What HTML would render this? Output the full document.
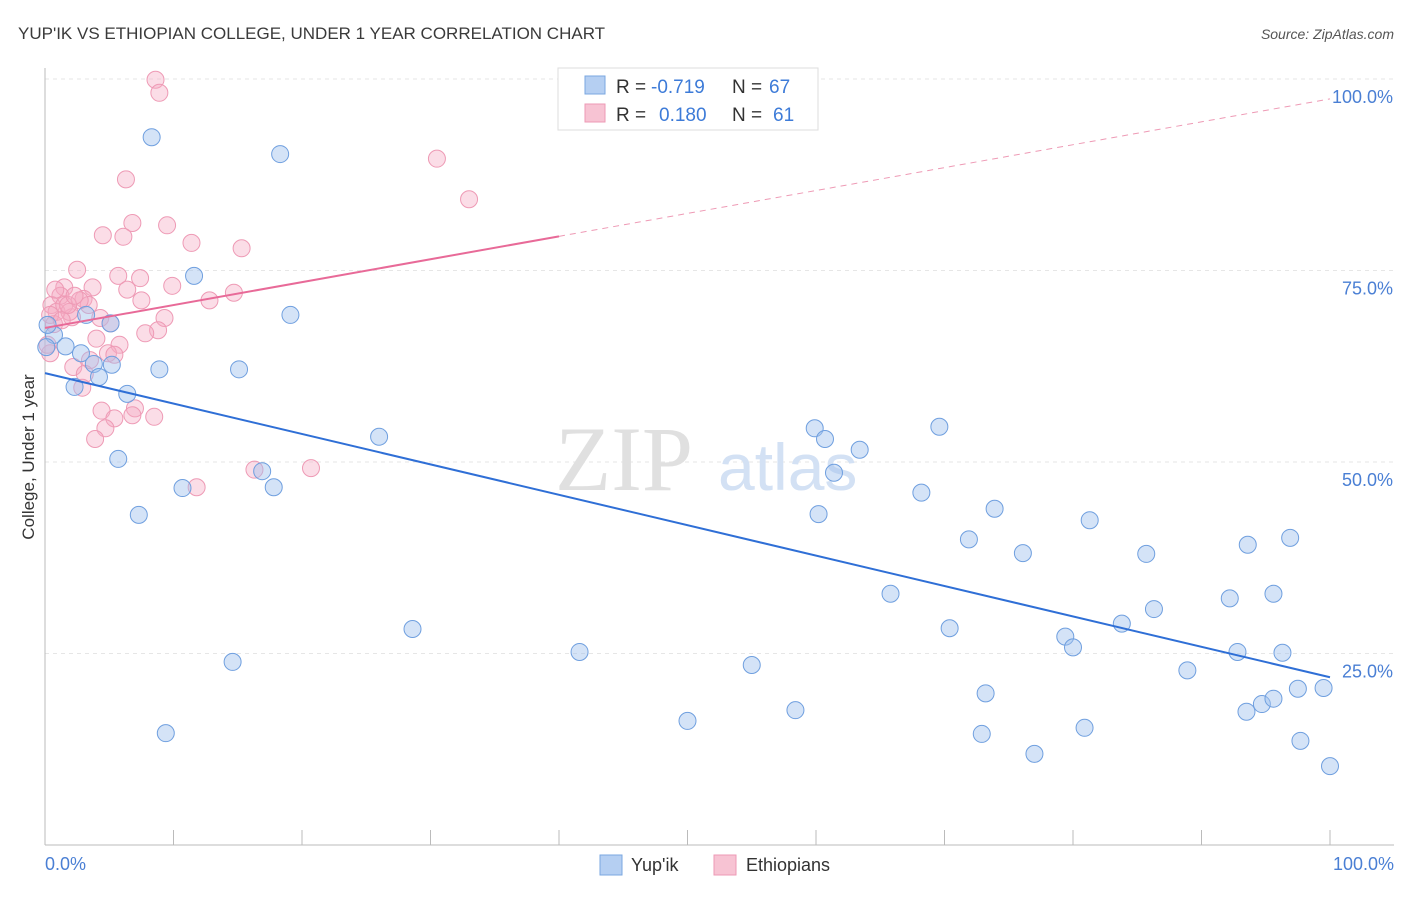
<!DOCTYPE html>
<html><head><meta charset="utf-8"><style>
body{margin:0;background:#fff;font-family:"Liberation Sans",sans-serif;}
svg text{font-family:"Liberation Sans",sans-serif;}
</style></head><body>
<svg id="chart" width="1406" height="892" viewBox="0 0 1406 892">
<text x="18" y="39" font-size="17" fill="#3a3a3a">YUP'IK VS ETHIOPIAN COLLEGE, UNDER 1 YEAR CORRELATION CHART</text>
<text x="1394" y="39" font-size="14" fill="#555" text-anchor="end" font-style="italic">Source: ZipAtlas.com</text>
<g id="grid"></g>
<text x="555" y="490" font-size="92" fill="#e0e0e0" style="font-family:'Liberation Serif',serif">ZIP</text>
<text x="718" y="490" font-size="66" fill="#d3e1f4">atlas</text>
<line x1="45" y1="845" x2="1394" y2="845" stroke="#bbb"/>
<line x1="45" y1="68" x2="45" y2="845" stroke="#bbb"/>
<g id="ticks"></g>
<g id="ylabels"></g>
<text transform="translate(34,457) rotate(-90)" font-size="17" fill="#333" text-anchor="middle">College, Under 1 year</text>
<text x="45" y="870" font-size="18" fill="#4a7fd4">0.0%</text>
<text x="1394" y="870" font-size="18" fill="#4a7fd4" text-anchor="end">100.0%</text>
<g id="pts"></g>
<g id="lines"></g>
<g>
<rect x="558" y="68" width="260" height="62" fill="#fff" stroke="#ddd"/>
<rect x="585" y="76" width="20" height="18" fill="#b5cff2" stroke="#7aa7e0"/>
<rect x="585" y="104" width="20" height="18" fill="#f7c3d3" stroke="#ee9ab5"/>
<text x="616" y="93" font-size="19" fill="#333">R =</text>
<text x="651" y="93" font-size="19" fill="#3d7bd8">-0.719</text>
<text x="732" y="93" font-size="19" fill="#333">N =</text>
<text x="769" y="93" font-size="19" fill="#3d7bd8">67</text>
<text x="616" y="121" font-size="19" fill="#333">R =</text>
<text x="659" y="121" font-size="19" fill="#3d7bd8">0.180</text>
<text x="732" y="121" font-size="19" fill="#333">N =</text>
<text x="773" y="121" font-size="19" fill="#3d7bd8">61</text>
</g>
<g>
<rect x="600" y="855" width="22" height="20" fill="#b5cff2" stroke="#7aa7e0"/>
<text x="631" y="871" font-size="18" fill="#333">Yup'ik</text>
<rect x="714" y="855" width="22" height="20" fill="#f7c3d3" stroke="#ee9ab5"/>
<text x="746" y="871" font-size="18" fill="#333">Ethiopians</text>
</g>
</svg>
<script>
const yTicks=[25,50,75,100];
const yTickLabels=["25.0%","50.0%","75.0%","100.0%"];
const xTicks=[0,10,20,30,40,50,60,70,80,90,100];
const yupikX=[8.3,18.3,11.6,19.1,5.1,0.7,1.6,2.8,3.8,5.2,4.2,2.3,6.4,8.9,15.1,5.7,16.9,17.8,10.7,7.3,26.0,28.6,14.6,9.4,41.6,50.0,55.0,58.4,59.9,60.7,61.4,63.4,60.2,69.6,68.2,73.9,71.9,76.1,81.3,85.7,65.8,70.4,79.4,80.0,83.8,86.3,73.2,72.9,77.0,80.9,88.9,92.2,93.6,96.9,95.6,92.8,96.3,93.5,94.7,95.6,97.5,99.5,97.7,100,0.1,0.2,3.2];
const yupikY=[92.4,90.2,74.3,69.2,68.1,66.6,65.1,64.2,62.8,62.7,61.1,59.8,58.9,62.1,62.1,50.4,48.8,46.7,46.6,43.1,53.3,28.2,23.9,14.6,25.2,16.2,23.5,17.6,54.4,53.0,48.6,51.6,43.2,54.6,46.0,43.9,39.9,38.1,42.4,38.0,32.8,28.3,27.2,25.8,28.9,30.8,19.8,14.5,11.9,15.3,22.8,32.2,39.2,40.1,32.8,25.2,25.1,17.4,18.4,19.1,20.4,20.5,13.6,10.3,65.0,67.9,69.2];
const ethX=[8.6,8.9,30.5,33.0,6.3,9.5,6.8,4.5,6.1,11.4,15.3,2.5,5.7,7.4,1.5,3.7,9.9,6.4,14.7,12.8,7.5,1.2,3.0,3.4,0.5,0.9,2.1,4.3,9.3,5.1,0.7,8.8,7.8,4.0,5.8,4.9,5.4,3.5,2.2,3.1,2.9,4.4,7.0,5.4,6.8,8.5,4.7,3.9,20.7,16.3,11.8,0.4,0.2,1.5,1.9,0.4,1.3,2.7,0.8,1.8,2.3];
const ethY=[99.9,98.2,89.6,84.3,86.9,80.9,81.2,79.6,79.4,78.6,77.9,75.1,74.3,74.0,72.8,72.8,73.0,72.5,72.1,71.1,71.1,71.7,71.3,70.5,70.5,69.6,68.9,68.8,68.8,68.1,68.0,67.2,66.8,66.1,65.3,64.2,64.0,63.3,62.4,61.5,59.7,56.7,57.0,55.7,56.1,55.9,54.4,53.0,49.2,49.0,46.7,64.2,65.3,70.5,69.6,69.2,68.5,71.1,72.5,70.5,71.7];
const yupikTrend=[61.6,21.9];
const ethTrend=[67.5,97.4];
const ethSolidEnd=40;
const NS="http://www.w3.org/2000/svg";
const sx=v=>45+v*12.85, sy=v=>845-v*7.66;
function mk(t,a,p){const e=document.createElementNS(NS,t);for(const k in a)e.setAttribute(k,a[k]);p.appendChild(e);return e;}
const grid=document.getElementById('grid'),yl=document.getElementById('ylabels'),tk=document.getElementById('ticks');
yTicks.forEach((v,i)=>{
 const l=mk('line',{x1:45,x2:1394,y1:sy(v),y2:sy(v),stroke:'#e6e6e6','stroke-dasharray':'4,4'},grid);
 
 
 const t=mk('text',{x:1393,y:sy(v)+24,'font-size':18,fill:'#4a7fd4','text-anchor':'end'},yl);
 t.textContent=yTickLabels[i];
 
 
});
xTicks.forEach(v=>{
 const l=mk('line',{x1:sx(v),x2:sx(v),y1:845,y2:830,stroke:'#bbb'},tk);
 
 
});
const pts=document.getElementById('pts');
ethX.forEach((x,i)=>{
 const c=mk('circle',{cx:sx(x),cy:sy(ethY[i]),r:8.5,fill:'rgba(244,170,195,0.4)',stroke:'#ee9ab5','stroke-width':1},pts);
 
 
});
yupikX.forEach((x,i)=>{
 const c=mk('circle',{cx:sx(x),cy:sy(yupikY[i]),r:8.5,fill:'rgba(160,192,238,0.45)',stroke:'#6f9fdf','stroke-width':1},pts);
 
 
});
const ln=document.getElementById('lines');
const b=mk('line',{x1:sx(0),y1:sy(yupikTrend[0]),x2:sx(100),y2:sy(yupikTrend[1]),stroke:'#2f6fd6','stroke-width':2},ln);


const pm=ethTrend[0]+(ethTrend[1]-ethTrend[0])*ethSolidEnd/100;
const p1=mk('line',{x1:sx(0),y1:sy(ethTrend[0]),x2:sx(ethSolidEnd),y2:sy(pm),stroke:'#e86a98','stroke-width':2},ln);


const p2=mk('line',{x1:sx(ethSolidEnd),y1:sy(pm),x2:sx(100),y2:sy(ethTrend[1]),stroke:'#ee9ab5','stroke-width':1,'stroke-dasharray':'6,5'},ln);


</script>
</body></html>
